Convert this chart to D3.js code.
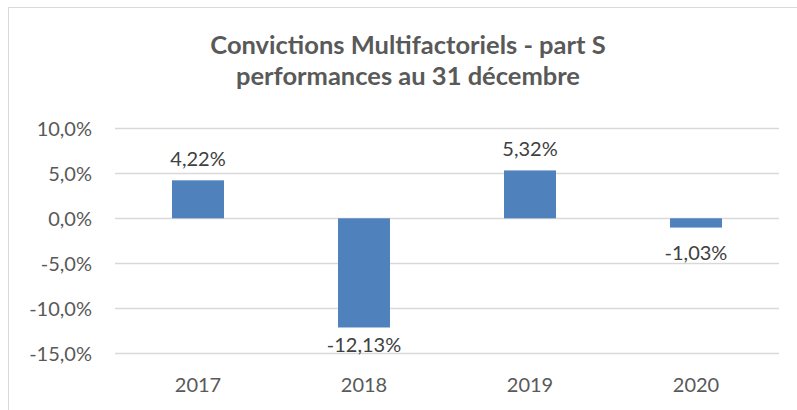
<!DOCTYPE html>
<html>
<head>
<meta charset="utf-8">
<script src="https://cdn.jsdelivr.net/npm/d3@7"></script>
<style>
  body { margin: 0; background: #fff; }
  svg { display: block; font-family: Lato, "Open Sans", sans-serif; }
</style>
</head>
<body>
<div id="chart"></div>
<script>
var years = ["2017", "2018", "2019", "2020"];
var perf = [4.22, -12.13, 5.32, -1.03];
var yTicks = [-15, -10, -5, 0, 5, 10];
var titleLines = ["Convictions Multifactoriels - part S", "performances au 31 décembre"];

function init() {
    var w = 797;
    var h = 410;

    // french number format, plain hyphen for negatives
    var fr = d3.formatLocale({ decimal: ",", thousands: " ", grouping: [3], currency: ["", " €"], minus: "-" });
    var fmtTick = fr.format(".1f");
    var fmtLabel = fr.format(".2f");

    var svg = d3.select("#chart")
                .append("svg")
                .attr("width", w)
                .attr("height", h);

    // chart frame
    svg.append("rect")
        .attr("x", 8.5)
        .attr("y", 7.5)
        .attr("width", w + 20)
        .attr("height", h + 20)
        .attr("fill", "none")
        .attr("stroke", "#d9d9d9");

    var xScale = d3.scaleBand()
                   .domain(years)
                   .range([115, 779])
                   .paddingInner(0.687)
                   .paddingOuter(0.3435);

    var yScale = d3.scaleLinear()
                   .domain([-15, 10])
                   .range([353.3, 128.3]);

    // gridlines
    svg.append("g")
        .selectAll("line")
        .data(yTicks)
        .enter()
        .append("line")
        .attr("x1", 115)
        .attr("x2", 779)
        .attr("y1", function(d) { return Math.round(yScale(d)) + 0.5; })
        .attr("y2", function(d) { return Math.round(yScale(d)) + 0.5; })
        .attr("stroke", "#d9d9d9")
        .attr("stroke-width", 1.3);

    // y axis labels
    var yAxis = d3.axisLeft(yScale)
                  .tickValues(yTicks)
                  .tickSize(0)
                  .tickPadding(0)
                  .tickFormat(function(d) { return fmtTick(d) + "%"; });

    var gy = svg.append("g")
        .attr("transform", "translate(92,0)")
        .call(yAxis);
    gy.select(".domain").remove();
    gy.selectAll("text")
        .attr("fill", "#595959")
        .attr("font-size", 20)
        .attr("font-family", "Lato, 'Open Sans', sans-serif")
        .attr("dy", "0.36em");

    // x axis labels
    var xAxis = d3.axisBottom(xScale).tickSize(0).tickPadding(0);
    var gx = svg.append("g")
        .attr("transform", "translate(0,392)")
        .call(xAxis);
    gx.select(".domain").remove();
    gx.selectAll("text")
        .attr("fill", "#595959")
        .attr("font-size", 20)
        .attr("font-family", "Lato, 'Open Sans', sans-serif")
        .attr("dy", 0);

    // bars
    svg.append("g")
        .selectAll("rect")
        .data(perf)
        .enter()
        .append("rect")
        .attr("x", function(d, i) { return xScale(years[i]); })
        .attr("width", xScale.bandwidth())
        .attr("y", function(d) { return yScale(Math.max(0, d)); })
        .attr("height", function(d) { return Math.abs(yScale(d) - yScale(0)); })
        .attr("fill", "#4f81bd");

    // data labels
    svg.append("g")
        .selectAll("text")
        .data(perf)
        .enter()
        .append("text")
        .attr("x", function(d, i) { return xScale(years[i]) + xScale.bandwidth() / 2; })
        .attr("y", function(d) {
            return d >= 0 ? yScale(d) - 14 : Math.min(yScale(d) + 32, 352);
        })
        .attr("text-anchor", "middle")
        .attr("font-size", 20)
        .attr("fill", "#404040")
        .text(function(d) { return fmtLabel(d) + "%"; });

    // title
    svg.append("g")
        .selectAll("text")
        .data(titleLines)
        .enter()
        .append("text")
        .attr("x", 408)
        .attr("y", function(d, i) { return 54 + i * 31; })
        .attr("text-anchor", "middle")
        .attr("font-size", 25.5)
        .attr("font-weight", "bold")
        .attr("fill", "#595959")
        .text(function(d) { return d; });
}
window.onload = init;
</script>
</body>
</html>
